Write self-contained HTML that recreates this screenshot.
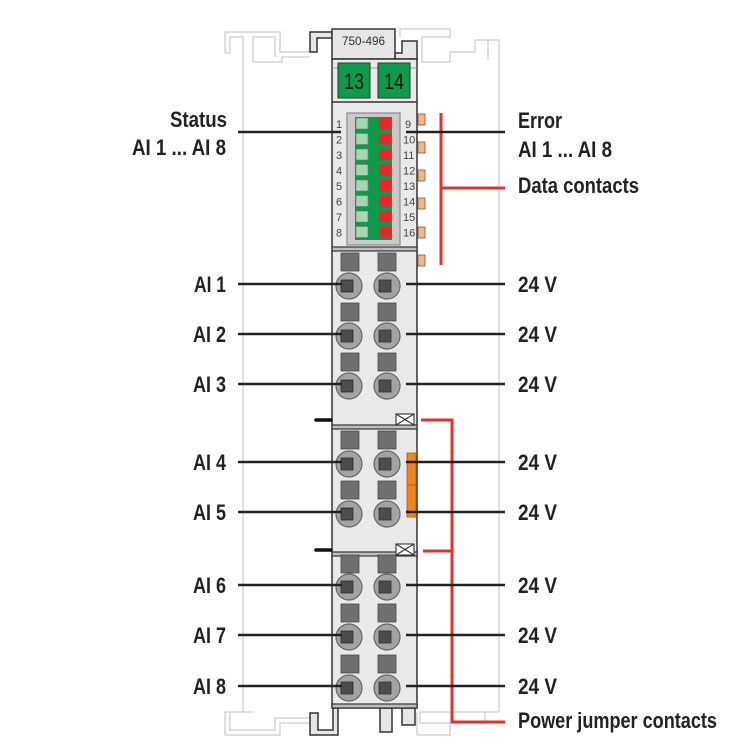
<!DOCTYPE html>
<html><head><meta charset="utf-8"><style>
html,body{margin:0;padding:0;background:#fff;}
svg{display:block;}
text{font-family:"Liberation Sans",Arial,sans-serif;}
.lb{font-size:22px;font-weight:bold;fill:#222;}
.n{font-size:11px;fill:#444;}
</style></head><body>
<svg width="750" height="750" viewBox="0 0 750 750" xmlns="http://www.w3.org/2000/svg">
<!-- rail outlines -->
<g fill="none" stroke="#d3d3d3" stroke-width="1.5">
<path d="M225,32 H280 V52 H310"/>
<path d="M225,32 V53 H230 V37 H243 V712"/>
<path d="M253,37 V62 H282 V57 H310"/>
<path d="M253,37 H275 V57"/>
<path d="M400,37 V29 H450 V37 H422 V62 H450 V52 H475 V40 H499 V712"/>
<path d="M488,40 V60"/>
<path d="M225,712 V735 H280 V723 H310"/>
<path d="M230,712 V730 H275 V718 H310"/>
<path d="M225,712 H253"/>
<path d="M420,712 H485 V723 H420 Z"/>
<path d="M417,712 V735 H450 V723"/>
<path d="M485,712 H499"/>
</g>
<!-- top hook & cap -->
<polygon points="310,52 310,32 332,32 332,38 317,38 317,52" fill="#e6e6e6" stroke="#333" stroke-width="1.5"/>
<polygon points="395,53 402,53 402,41 417,41 417,59 395,59" fill="#e6e6e6" stroke="#333" stroke-width="1.5"/>
<rect x="332" y="29" width="63" height="30" fill="#e6e6e6" stroke="#333" stroke-width="1.5"/>
<text x="363.5" y="45" font-size="12" fill="#333" text-anchor="middle" textLength="43" lengthAdjust="spacingAndGlyphs">750-496</text>
<!-- bottom feet -->
<polygon points="310,713 318,713 318,730 333,730 333,708 338,708 338,735 310,735" fill="#e6e6e6" stroke="#333" stroke-width="1.5"/>
<rect x="380" y="708" width="12" height="24" fill="#e6e6e6" stroke="#333" stroke-width="1.5"/>
<rect x="402" y="708" width="13" height="17" fill="#e6e6e6" stroke="#333" stroke-width="1.5"/>
<!-- module body -->
<rect x="332" y="59" width="85" height="649" fill="#e9e9e9" stroke="#333" stroke-width="1.5"/>
<line x1="332" y1="68" x2="417" y2="68" stroke="#888" stroke-width="0.8"/>
<line x1="332" y1="102" x2="417" y2="102" stroke="#333" stroke-width="1.5"/>
<rect x="332" y="247" width="85" height="4" fill="#bdbdbd" stroke="#333" stroke-width="1.2"/>
<rect x="332" y="425" width="85" height="4" fill="#bdbdbd" stroke="#333" stroke-width="1.2"/>
<rect x="332" y="552" width="85" height="4" fill="#bdbdbd" stroke="#333" stroke-width="1.2"/>
<rect x="332" y="704" width="85" height="4" fill="#bdbdbd" stroke="#333" stroke-width="1.2"/>
<!-- 13 / 14 -->
<rect x="338" y="63" width="32" height="35" fill="#0d9b4b" stroke="#333" stroke-width="1"/>
<rect x="378" y="63" width="32" height="35" fill="#0d9b4b" stroke="#333" stroke-width="1"/>
<text x="354" y="89" font-size="22" fill="#111" text-anchor="middle" textLength="20" lengthAdjust="spacingAndGlyphs">13</text>
<text x="394" y="89" font-size="22" fill="#111" text-anchor="middle" textLength="20" lengthAdjust="spacingAndGlyphs">14</text>
<!-- LED block -->
<rect x="347" y="113" width="53" height="132" fill="#c8c8c8" stroke="#8c8c8c" stroke-width="1.2"/>
<rect x="355" y="117" width="37" height="123" fill="#0d9b4b"/>
<g>
<rect x="356" y="118" width="12" height="11" fill="#a7d7b1" stroke="#5e7e66" stroke-width="0.6"/><rect x="379" y="118" width="12" height="11" fill="#e8262a"/>
<rect x="356" y="133.5" width="12" height="11" fill="#a7d7b1" stroke="#5e7e66" stroke-width="0.6"/><rect x="379" y="133.5" width="12" height="11" fill="#e8262a"/>
<rect x="356" y="149" width="12" height="11" fill="#a7d7b1" stroke="#5e7e66" stroke-width="0.6"/><rect x="379" y="149" width="12" height="11" fill="#e8262a"/>
<rect x="356" y="164.5" width="12" height="11" fill="#a7d7b1" stroke="#5e7e66" stroke-width="0.6"/><rect x="379" y="164.5" width="12" height="11" fill="#e8262a"/>
<rect x="356" y="180" width="12" height="11" fill="#a7d7b1" stroke="#5e7e66" stroke-width="0.6"/><rect x="379" y="180" width="12" height="11" fill="#e8262a"/>
<rect x="356" y="195.5" width="12" height="11" fill="#a7d7b1" stroke="#5e7e66" stroke-width="0.6"/><rect x="379" y="195.5" width="12" height="11" fill="#e8262a"/>
<rect x="356" y="211" width="12" height="11" fill="#a7d7b1" stroke="#5e7e66" stroke-width="0.6"/><rect x="379" y="211" width="12" height="11" fill="#e8262a"/>
<rect x="356" y="226.5" width="12" height="11" fill="#a7d7b1" stroke="#5e7e66" stroke-width="0.6"/><rect x="379" y="226.5" width="12" height="11" fill="#e8262a"/>
</g>
<g class="n">
<text x="336" y="128" class="n">1</text><text x="336" y="143.5" class="n">2</text><text x="336" y="159" class="n">3</text><text x="336" y="174.5" class="n">4</text>
<text x="336" y="190" class="n">5</text><text x="336" y="205.5" class="n">6</text><text x="336" y="221" class="n">7</text><text x="336" y="236.5" class="n">8</text>
<text x="405" y="128" class="n">9</text><text x="403" y="143.5" class="n">10</text><text x="403" y="159" class="n">11</text><text x="403" y="174.5" class="n">12</text>
<text x="403" y="190" class="n">13</text><text x="403" y="205.5" class="n">14</text><text x="403" y="221" class="n">15</text><text x="403" y="236.5" class="n">16</text>
</g>
<!-- data contact tabs -->
<g fill="#f5b584" stroke="#6d5e50" stroke-width="0.8">
<rect x="418" y="114" width="7" height="11"/><rect x="418" y="142" width="7" height="11"/>
<rect x="418" y="170" width="7" height="11"/><rect x="418" y="198" width="7" height="11"/>
<rect x="418" y="227" width="7" height="11"/><rect x="418" y="255" width="7" height="11"/>
</g>
<!-- terminals -->
<g id="terms">
<g fill="#707070" stroke="#4a4a4a" stroke-width="0.8">
<rect x="341" y="253" width="18" height="18"/><rect x="378" y="253" width="18" height="18"/>
<rect x="341" y="303" width="18" height="18"/><rect x="378" y="303" width="18" height="18"/>
<rect x="341" y="353" width="18" height="18"/><rect x="378" y="353" width="18" height="18"/>
<rect x="341" y="431" width="18" height="18"/><rect x="378" y="431" width="18" height="18"/>
<rect x="341" y="481" width="18" height="18"/><rect x="378" y="481" width="18" height="18"/>
<rect x="341" y="555" width="18" height="18"/><rect x="378" y="555" width="18" height="18"/>
<rect x="341" y="604" width="18" height="18"/><rect x="378" y="604" width="18" height="18"/>
<rect x="341" y="655" width="18" height="18"/><rect x="378" y="655" width="18" height="18"/>
</g>
<g fill="#a3a3a3" stroke="#666" stroke-width="1.2">
<circle cx="349" cy="286" r="13"/><circle cx="387" cy="286" r="13"/>
<circle cx="349" cy="336" r="13"/><circle cx="387" cy="336" r="13"/>
<circle cx="349" cy="386" r="13"/><circle cx="387" cy="386" r="13"/>
<circle cx="349" cy="464" r="13"/><circle cx="387" cy="464" r="13"/>
<circle cx="349" cy="514" r="13"/><circle cx="387" cy="514" r="13"/>
<circle cx="349" cy="587" r="13"/><circle cx="387" cy="587" r="13"/>
<circle cx="349" cy="637" r="13"/><circle cx="387" cy="637" r="13"/>
<circle cx="349" cy="688" r="13"/><circle cx="387" cy="688" r="13"/>
</g>
<g fill="#4d4d4d" stroke="#2e2e2e" stroke-width="0.8">
<rect x="341" y="280" width="12" height="12"/><rect x="379" y="280" width="12" height="12"/>
<rect x="341" y="330" width="12" height="12"/><rect x="379" y="330" width="12" height="12"/>
<rect x="341" y="380" width="12" height="12"/><rect x="379" y="380" width="12" height="12"/>
<rect x="341" y="458" width="12" height="12"/><rect x="379" y="458" width="12" height="12"/>
<rect x="341" y="508" width="12" height="12"/><rect x="379" y="508" width="12" height="12"/>
<rect x="341" y="581" width="12" height="12"/><rect x="379" y="581" width="12" height="12"/>
<rect x="341" y="631" width="12" height="12"/><rect x="379" y="631" width="12" height="12"/>
<rect x="341" y="682" width="12" height="12"/><rect x="379" y="682" width="12" height="12"/>
</g>
</g>
<!-- orange jumper bar -->
<rect x="407" y="453" width="9" height="64" fill="#f0841f" stroke="#a85a10" stroke-width="0.8"/>
<line x1="407" y1="485" x2="416" y2="485" stroke="#a85a10" stroke-width="0.8"/>
<!-- X boxes -->
<g fill="#fff" stroke="#333" stroke-width="1.1">
<rect x="396" y="414" width="18" height="11"/>
<path d="M396,414 L414,425 M414,414 L396,425" fill="none"/>
<rect x="396" y="544" width="18" height="11"/>
<path d="M396,544 L414,555 M414,544 L396,555" fill="none"/>
</g>
<!-- stubs -->
<g stroke="#111" stroke-width="3.5" stroke-linecap="round">
<line x1="316" y1="420" x2="331" y2="420"/>
<line x1="316" y1="550" x2="331" y2="550"/>
</g>
<!-- red lines -->
<g fill="none" stroke="#e8302a" stroke-width="3">
<path d="M441,113 V265"/>
<path d="M441,188 H505"/>
<path d="M421,420 H452 V722 H505"/>
<path d="M423,551 H452"/>
</g>
<!-- connector lines -->
<g stroke="#222" stroke-width="2.5">
<line x1="238" y1="132" x2="341" y2="132"/>
<line x1="406" y1="132" x2="505" y2="132"/>
<line x1="238" y1="284" x2="342" y2="284"/><line x1="406" y1="284" x2="505" y2="284"/>
<line x1="238" y1="334" x2="342" y2="334"/><line x1="406" y1="334" x2="505" y2="334"/>
<line x1="238" y1="384" x2="342" y2="384"/><line x1="406" y1="384" x2="505" y2="384"/>
<line x1="238" y1="462" x2="342" y2="462"/><line x1="406" y1="462" x2="505" y2="462"/>
<line x1="238" y1="512" x2="342" y2="512"/><line x1="406" y1="512" x2="505" y2="512"/>
<line x1="238" y1="585" x2="342" y2="585"/><line x1="406" y1="585" x2="505" y2="585"/>
<line x1="238" y1="635" x2="342" y2="635"/><line x1="406" y1="635" x2="505" y2="635"/>
<line x1="238" y1="686" x2="342" y2="686"/><line x1="406" y1="686" x2="505" y2="686"/>
</g>
<!-- labels left -->
<g class="lb" text-anchor="end">
<text x="227" y="127" class="lb" textLength="57" lengthAdjust="spacingAndGlyphs">Status</text>
<text x="226" y="155" class="lb" textLength="94" lengthAdjust="spacingAndGlyphs">AI 1 ... AI 8</text>
<text x="226" y="292" class="lb" textLength="32" lengthAdjust="spacingAndGlyphs">AI 1</text>
<text x="226" y="342" class="lb" textLength="33" lengthAdjust="spacingAndGlyphs">AI 2</text>
<text x="226" y="392" class="lb" textLength="33" lengthAdjust="spacingAndGlyphs">AI 3</text>
<text x="226" y="470" class="lb" textLength="33" lengthAdjust="spacingAndGlyphs">AI 4</text>
<text x="226" y="520" class="lb" textLength="33" lengthAdjust="spacingAndGlyphs">AI 5</text>
<text x="226" y="593" class="lb" textLength="33" lengthAdjust="spacingAndGlyphs">AI 6</text>
<text x="226" y="643" class="lb" textLength="33" lengthAdjust="spacingAndGlyphs">AI 7</text>
<text x="226" y="694" class="lb" textLength="33" lengthAdjust="spacingAndGlyphs">AI 8</text>
</g>
<!-- labels right -->
<g class="lb">
<text x="518" y="128" class="lb" textLength="44" lengthAdjust="spacingAndGlyphs">Error</text>
<text x="518" y="157" class="lb" textLength="94" lengthAdjust="spacingAndGlyphs">AI 1 ... AI 8</text>
<text x="518" y="193" class="lb" textLength="121" lengthAdjust="spacingAndGlyphs">Data contacts</text>
<text x="518" y="292" class="lb" textLength="39" lengthAdjust="spacingAndGlyphs">24 V</text>
<text x="518" y="342" class="lb" textLength="39" lengthAdjust="spacingAndGlyphs">24 V</text>
<text x="518" y="392" class="lb" textLength="39" lengthAdjust="spacingAndGlyphs">24 V</text>
<text x="518" y="470" class="lb" textLength="39" lengthAdjust="spacingAndGlyphs">24 V</text>
<text x="518" y="520" class="lb" textLength="39" lengthAdjust="spacingAndGlyphs">24 V</text>
<text x="518" y="593" class="lb" textLength="39" lengthAdjust="spacingAndGlyphs">24 V</text>
<text x="518" y="643" class="lb" textLength="39" lengthAdjust="spacingAndGlyphs">24 V</text>
<text x="518" y="694" class="lb" textLength="39" lengthAdjust="spacingAndGlyphs">24 V</text>
<text x="518" y="728" class="lb" textLength="199" lengthAdjust="spacingAndGlyphs">Power jumper contacts</text>
</g>
</svg>
</body></html>
